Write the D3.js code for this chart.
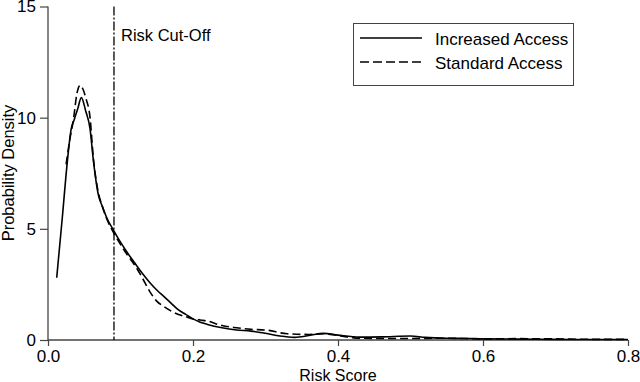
<!DOCTYPE html>
<html lang="en">
<head>
<meta charset="UTF-8">
<title>Risk score density</title>
<script src="https://cdn.jsdelivr.net/npm/d3@7/dist/d3.min.js"></script>
<style>
    body { margin: 0; background: #fff; }
    text { font-family: "Liberation Sans", Arial, sans-serif; fill: #000; }
</style>
</head>
<body>
<div id="chart"></div>
<script>
    // risk score (x) and density (y) for each group
    var incX = [0.012, 0.02, 0.026, 0.032, 0.036, 0.041, 0.046, 0.052, 0.058, 0.0625, 0.069, 0.075, 0.081, 0.091,
        0.10, 0.11, 0.12, 0.13, 0.14, 0.15, 0.16, 0.17, 0.18, 0.19, 0.20, 0.21, 0.22, 0.24, 0.26, 0.28, 0.30,
        0.32, 0.34, 0.36, 0.38, 0.40, 0.43, 0.46, 0.50, 0.52, 0.55, 0.58, 0.60, 0.65, 0.70, 0.75, 0.80];
    var incY = [2.8, 5.6, 7.8, 9.5, 9.9, 10.4, 10.9, 10.3, 9.5, 8.1, 6.6, 6.0, 5.5, 4.9,
        4.4, 3.9, 3.45, 3.0, 2.6, 2.25, 1.95, 1.65, 1.35, 1.15, 0.95, 0.8, 0.7, 0.55, 0.45, 0.4, 0.3,
        0.18, 0.12, 0.2, 0.3, 0.22, 0.13, 0.14, 0.18, 0.12, 0.08, 0.07, 0.05, 0.04, 0.03, 0.02, 0.02];

    var stdX = [0.025, 0.030, 0.035, 0.040, 0.044, 0.048, 0.052, 0.058, 0.0625, 0.069, 0.075, 0.081, 0.091,
        0.10, 0.11, 0.12, 0.13, 0.14, 0.15, 0.16, 0.17, 0.18, 0.19, 0.20, 0.21, 0.22, 0.24, 0.26, 0.28, 0.30,
        0.33, 0.36, 0.38, 0.40, 0.43, 0.46, 0.50, 0.55, 0.60, 0.65, 0.70, 0.75, 0.80];
    var stdY = [7.9, 9.0, 9.9, 11.1, 11.45, 11.3, 10.9, 10.0, 8.2, 6.7, 6.0, 5.45, 4.8,
        4.3, 3.8, 3.35, 2.8, 2.2, 1.75, 1.5, 1.3, 1.15, 1.05, 0.95, 0.9, 0.85, 0.65, 0.55, 0.48, 0.45,
        0.28, 0.25, 0.28, 0.2, 0.08, 0.07, 0.07, 0.08, 0.05, 0.06, 0.05, 0.03, 0.03];

    var cutOff = 0.091;
    var xTicks = [0, 0.2, 0.4, 0.6, 0.8];
    var yTicks = [0, 5, 10, 15];
    var seriesNames = ["Increased Access", "Standard Access"];

    var width = 640, height = 382;
    var mLeft = 48, mRight = 628, mTop = 6.5, mBottom = 340;

    var x = d3.scaleLinear().domain([0, 0.8]).range([mLeft, mRight]);
    var y = d3.scaleLinear().domain([0, 15]).range([mBottom, mTop]);

    var svg = d3.select("#chart").append("svg")
        .attr("width", width)
        .attr("height", height);

    // axes
    var xAxis = svg.append("g")
        .attr("transform", "translate(0," + mBottom + ")")
        .call(d3.axisBottom(x).tickValues(xTicks).tickFormat(d3.format(".1f")).tickSize(6).tickPadding(4));
    var yAxis = svg.append("g")
        .attr("transform", "translate(" + mLeft + ",0)")
        .call(d3.axisLeft(y).tickValues(yTicks).tickSize(8).tickPadding(4));

    [xAxis, yAxis].forEach(function (g) {
        g.select(".domain").attr("stroke", "#444").attr("stroke-width", 1.3);
        g.selectAll(".tick line").attr("stroke", "#444").attr("stroke-width", 1.2);
        g.selectAll(".tick text").style("font-size", "17px").style("font-family", "Liberation Sans, Arial, sans-serif");
    });
    xAxis.select(".domain").attr("d", "M" + mLeft + ",0H" + mRight);
    yAxis.select(".domain").attr("d", "M0," + y(0) + "V" + y(15));

    svg.append("text")
        .attr("x", x(0.4))
        .attr("y", 380.5)
        .attr("text-anchor", "middle")
        .style("font-size", "16px")
        .text("Risk Score");

    svg.append("text")
        .attr("transform", "translate(14,173) rotate(-90)")
        .attr("text-anchor", "middle")
        .style("font-size", "16.5px")
        .text("Probability Density");

    // cut-off line
    svg.append("line")
        .attr("x1", x(cutOff)).attr("x2", x(cutOff))
        .attr("y1", y(15)).attr("y2", y(0))
        .attr("stroke", "#000")
        .attr("stroke-width", 1.3)
        .attr("stroke-dasharray", "9,2,2,2");

    svg.append("text")
        .attr("x", x(cutOff) + 7)
        .attr("y", 41)
        .style("font-size", "16.5px")
        .text("Risk Cut-Off");

    // density curves
    var line = d3.line()
        .x(function (d) { return x(d[0]); })
        .y(function (d) { return y(d[1]); })
        .curve(d3.curveMonotoneX);

    var incData = d3.zip(incX, incY);
    var stdData = d3.zip(stdX, stdY);

    svg.append("path")
        .datum(stdData)
        .attr("d", line)
        .attr("fill", "none")
        .attr("stroke", "#000")
        .attr("stroke-width", 1.6)
        .attr("stroke-dasharray", "8,4");

    svg.append("path")
        .datum(incData)
        .attr("d", line)
        .attr("fill", "none")
        .attr("stroke", "#000")
        .attr("stroke-width", 1.6);

    // legend
    var legend = svg.append("g").attr("transform", "translate(353,23)");
    legend.append("rect")
        .attr("x", 0.5).attr("y", 0.5)
        .attr("width", 220).attr("height", 62)
        .attr("fill", "#fff")
        .attr("stroke", "#444")
        .attr("stroke-width", 1);

    var items = legend.selectAll("g.item")
        .data(seriesNames)
        .enter()
        .append("g")
        .attr("class", "item")
        .attr("transform", function (d, i) {
            return "translate(0," + (15 + i * 24) + ")";
        });

    items.append("line")
        .attr("x1", 7).attr("x2", 69)
        .attr("y1", 0).attr("y2", 0)
        .attr("stroke", "#000")
        .attr("stroke-width", 1.6)
        .attr("stroke-dasharray", function (d, i) { return i === 1 ? "9,4" : null; });

    items.append("text")
        .attr("x", 82)
        .attr("y", 6.5)
        .style("font-size", "17px")
        .text(function (d) { return d; });
</script>
</body>
</html>
